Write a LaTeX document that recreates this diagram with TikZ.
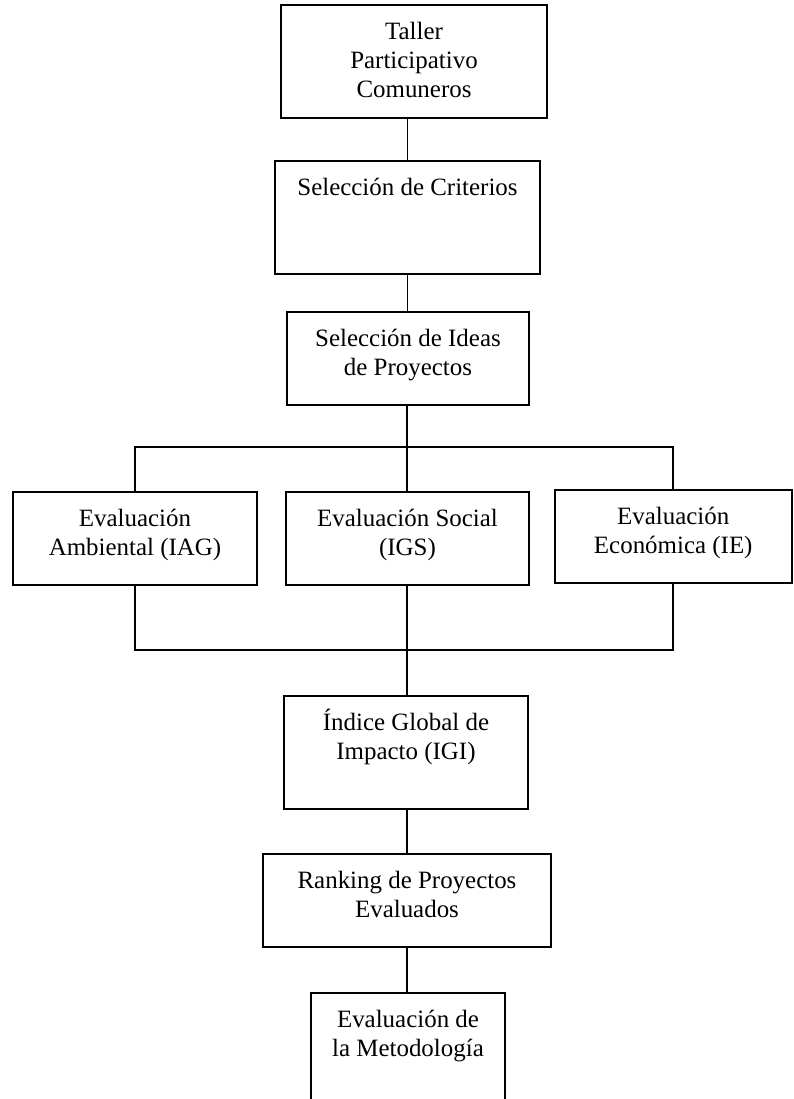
\documentclass[tikz,border=0pt]{standalone}
\usepackage{fontspec}
\setmainfont{Liberation Serif}
\usetikzlibrary{calc}
\newcommand{\cajatexto}[3]{\parbox[c][#2][t]{#1}{\centering\rule{0pt}{26.25pt}#3}}

\begin{document}
\begin{tikzpicture}[x=0.75pt,y=0.75pt,
  paso/.style={draw,line width=1.5pt,inner sep=0pt,font=\fontsize{18.7}{21.5}\selectfont},
  linea/.style={line width=1.2pt}]
\clip (0,0) rectangle (793,1099);

\node[paso] (taller)      at (414,1037.5) {\cajatexto{199.5pt}{84.75pt}{Taller\\Participativo\\Comuneros}};
\node[paso] (criterios)   at (407.5,881.5) {\cajatexto{198.75pt}{84.75pt}{Selección de Criterios}};
\node[paso] (ideas)       at (408,740.5) {\cajatexto{181.5pt}{69.75pt}{Selección de Ideas\\de Proyectos}};

\node[paso] (ambiental)   at (135,560.5) {\cajatexto{183pt}{69.75pt}{Evaluación\\Ambiental (IAG)}};
\node[paso] (social)      at (407.5,560.5) {\cajatexto{182.25pt}{69.75pt}{Evaluación Social\\(IGS)}};
\node[paso] (economica)   at (673.25,562.5) {\cajatexto{177.4pt}{69.75pt}{Evaluación\\Económica (IE)}};

\node[paso] (igi)         at (406,346.5) {\cajatexto{183pt}{84.75pt}{Índice Global de\\Impacto (IGI)}};
\node[paso] (ranking)     at (407,198.5) {\cajatexto{216pt}{69.75pt}{Ranking de Proyectos\\Evaluados}};
\node[paso] (metodologia) at (408,49.5) {\cajatexto{145.5pt}{84.75pt}{Evaluación de\\la Metodología}};

\coordinate (bus1) at (407,652);
\coordinate (bus2) at (407,449);

\draw[linea] (taller.south -| criterios.north) -- (criterios.north);
\draw[linea] (criterios.south) -- (criterios.south |- ideas.north);
\draw[linea] (ideas.south -| bus1) -- (bus1);
\draw[linea] (ambiental.north) |- (bus1) -| (economica.north);
\draw[linea] (bus1) -- (bus1 |- social.north);
\draw[linea] (ambiental.south) |- (bus2) -| (economica.south);
\draw[linea] (social.south -| bus2) -- (bus2) -- (bus2 |- igi.north);
\draw[linea] (igi.south -| ranking.north) -- (ranking.north);
\draw[linea] (ranking.south -| bus2) -- (metodologia.north -| bus2);

\end{tikzpicture}
\end{document}
